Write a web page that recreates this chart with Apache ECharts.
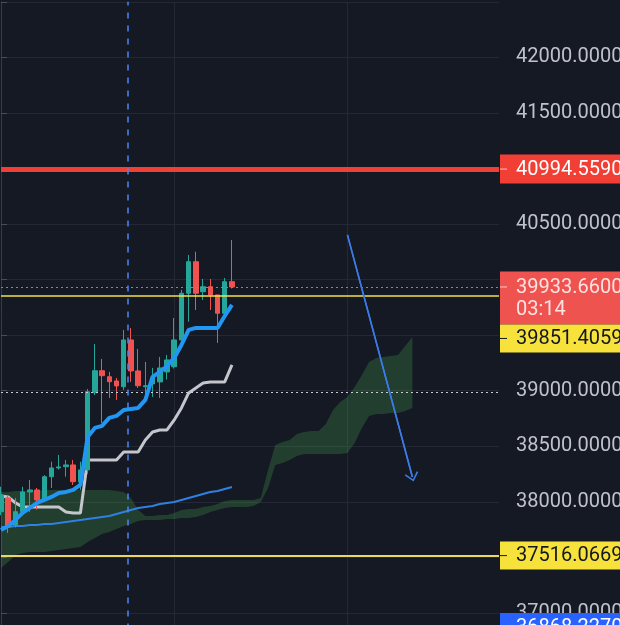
<!DOCTYPE html>
<html><head><meta charset="utf-8">
<script src="https://cdn.jsdelivr.net/npm/echarts@6/dist/echarts.min.js"></script>
<style>html,body{margin:0;padding:0;background:#151924;overflow:hidden}#c{width:620px;height:625px;}</style>
</head><body><div id="c"></div>
<script>
// ---- data ----
const barCount = 70;
const bars = Array.from({length: barCount}, (_, i) => 'b' + i);

const opens  = [37911,38035,37792,37911,38089,38107,38017,38226,38305,38316,38332,38181,38287,38982,39180,39126,39088,39036,39457,39178,39036,39061,39079,39169,39216,39457,39877,40161,39891,39936,39862,39697,39981];
const closes = [38062,37774,37911,38089,38107,38017,38226,38305,38314,38332,38181,38287,38991,39180,39135,39081,39043,39457,39178,39045,39045,39115,39205,39277,39457,39877,40161,39877,39936,39862,39697,39981,39933.66];
const lows   = [37880,37720,37770,37880,37910,37930,38000,38125,38290,38226,38152,38107,38250,38962,38710,38935,38917,39007,39079,39025,38935,38944,38935,39100,39200,39412,39621,39727,39817,39727,39430,39680,39920];
const highs  = [38136,38060,38035,38136,38197,38125,38240,38361,38422,38377,38377,38361,39015,39421,39286,39169,39115,39547,39565,39376,39259,39205,39304,39322,39655,39907,40222,40251,40006,40006,39862,40015,40357];

const tenkan = [37747,37783,37837,37900,37945,37990,38017,38044,38080,38089,38107,38152,38584,38665,38683,38755,38773,38827,38836,38845,38917,39124,39169,39223,39295,39412,39547,39565,39565,39565,39565,39673,39772];
const kijun  = [38053,38044,37990,37954,37954,37954,37954,37954,37954,37909,37900,37900,38377,38377,38377,38377,38377,38449,38449,38449,38557,38629,38647,38647,38737,38845,38980,39025,39070,39079,39079,39079,39232];
const maLine = [37773,37773,37782,37782,37792,37792,37801,37801,37810,37819,37828,37837,37846,37855,37864,37873,37891,37909,37927,37945,37954,37963,37981,37990,37999,38017,38035,38053,38071,38089,38098,38116,38134];

const cloudUpper = [38089,38089,38098,38098,38098,38098,38107,38107,38107,38107,38107,38107,38107,38107,38107,38107,38098,38089,38035,37927,37873,37873,37882,37882,37900,37927,37936,37936,37954,37963,37981,38008,38017,38017,38017,38017,38035,38287,38512,38539,38557,38611,38629,38638,38638,38701,38827,38899,38944,39034,39142,39259,39295,39304,39313,39322,39403,39484];
const cloudLower = [37405,37459,37522,37540,37549,37549,37549,37558,37567,37576,37585,37594,37639,37675,37711,37729,37756,37783,37801,37828,37837,37837,37837,37846,37846,37855,37855,37864,37882,37909,37927,37945,37954,37954,37954,37963,37999,38125,38332,38350,38377,38413,38431,38431,38431,38431,38431,38431,38440,38530,38665,38773,38791,38791,38800,38800,38818,38845];

const yTicks = {min: 36500, max: 42500, step: 500};
const redLevel = 40994.559;
const lastPrice = 39933.66;
const countdown = '03:14';
const yellowHigh = 39851.4059;
const yellowLow = 37516.0669;
const crossPrice = 38985;
const bluePrice = 36868.227;
const vLineBar = 17.5;
const arrowX = [48, 57];
const arrowY = [40402, 38223];

// ---- chart ----
const candleData = opens.map((o, i) => [o, closes[i], lows[i], highs[i]]);
const cloudBand = cloudUpper.map((u, i) => u - cloudLower[i]);

const chart = echarts.init(document.getElementById('c'), null, {renderer: 'canvas', width: 620, height: 625});
const gridLine = '#242834';
let hiddenTicks = [];
const labelFmt = v => (v >= yTicks.max || v <= yTicks.min || hiddenTicks.indexOf(v) >= 0) ? '' : v.toFixed(4);
const option = {
  animation: false,
  backgroundColor: '#151924',
  grid: {left: 1, right: 121, top: 1.8, bottom: -43.5, containLabel: false, outerBoundsMode: 'none'},
  xAxis: [
    {type: 'category', data: bars, boundaryGap: false, axisLine: {show: false}, axisTick: {show: false},
     axisLabel: {show: false}, splitLine: {show: true, interval: 23, lineStyle: {color: gridLine, width: 1}}},
    {type: 'value', min: 0, max: barCount - 1, show: false}
  ],
  yAxis: {
    type: 'value', position: 'right', min: yTicks.min, max: yTicks.max, interval: yTicks.step,
    axisLine: {show: true, lineStyle: {color: '#363a45', width: 1}},
    axisTick: {show: true, length: 6, lineStyle: {color: '#4a4e5a'}},
    axisLabel: {margin: 17, color: '#bfc2cb', fontSize: 20, fontFamily: 'Roboto', formatter: labelFmt},
    splitLine: {show: true, lineStyle: {color: gridLine, width: 1}}
  },
  series: [
    {name: 'cloudLower', type: 'line', data: cloudLower, stack: 'cloud', symbol: 'none', silent: true,
     lineStyle: {opacity: 0}, z: 1},
    {name: 'cloudBand', type: 'line', data: cloudBand, stack: 'cloud', symbol: 'none', silent: true,
     lineStyle: {opacity: 0}, areaStyle: {color: 'rgba(76,175,80,0.25)', opacity: 1}, z: 1},
    {name: 'ma', type: 'line', data: maLine, symbol: 'none', silent: true,
     lineStyle: {color: '#2f80e0', width: 2}, z: 2},
    {name: 'kijun', type: 'line', data: kijun, symbol: 'none', silent: true,
     lineStyle: {color: '#c4c6cc', width: 3}, z: 3},
    {name: 'price', type: 'candlestick', data: candleData, barWidth: 5, z: 4,
     itemStyle: {color: '#26a69a', color0: '#ef5350', borderColor: '#26a69a', borderColor0: '#ef5350', borderColorDoji: '#26a69a', borderWidth: 1},
     markLine: {silent: true, symbol: ['none', 'none'], label: {show: false}, animation: false,
       data: [
         {yAxis: redLevel, lineStyle: {color: '#f23f36', width: 5, type: 'solid'}},
         {yAxis: lastPrice, lineStyle: {color: '#e86060', width: 1, type: [2, 3]}},
         {yAxis: yellowHigh, lineStyle: {color: '#f3e04a', width: 1.5, type: 'solid'}},
         {yAxis: crossPrice, lineStyle: {color: '#c9ccd4', width: 1.2, type: [2, 3]}},
         {yAxis: yellowLow, lineStyle: {color: '#e9d76a', width: 2.2, type: 'solid'}}
       ]}},
    {name: 'tenkan', type: 'line', data: tenkan, symbol: 'none', silent: true,
     lineStyle: {color: '#2196f3', width: 4}, z: 5},
    {name: 'annot', type: 'line', xAxisIndex: 1, data: arrowX.map((x, i) => [x, arrowY[i]]),
     symbol: 'none', silent: true, lineStyle: {color: '#3d7be6', width: 1.5}, z: 6,
     markLine: {silent: true, label: {show: false}, animation: false, symbol: ['none', 'none'],
       lineStyle: {color: '#3d7be6', width: 1.5, type: 'solid'},
       data: [
         [{coord: [arrowX[0], arrowY[0]], symbol: 'none'},
          {coord: [arrowX[1], arrowY[1]], symbol: 'path://M0,10 L10,0 L20,10 L18.2,11.4 L10,2.8 L1.8,11.4 Z', symbolSize: [14, 9]}],
         {xAxis: vLineBar, symbol: 'none', lineStyle: {color: '#4a86f2', width: 1.5, type: [6, 7], opacity: 1}}
       ]}}
  ]
};
chart.setOption(option);

// price boxes on the scale, placed through the axis' own conversion
const yOf = v => chart.convertToPixel({yAxisIndex: 0}, v);
const boxX = 500, boxW = 120, textX = 516, font = '20px Roboto';
const g = [];
const ranges = [];
function box(top, h, fill) { ranges.push([top, top + h]); g.push({type: 'rect', zlevel: 5, z: 100, shape: {x: boxX, y: top, width: boxW, height: h}, style: {fill: fill}}); }
function txt(str, y, fill) { g.push({type: 'text', zlevel: 5, z: 101, x: textX, y: y, style: {text: str, fill: fill, font: font, verticalAlign: 'middle', align: 'left'}}); }
function tick(y, color) { g.push({type: 'line', zlevel: 5, z: 101, shape: {x1: 500, y1: y, x2: 507, y2: y}, style: {stroke: color, lineWidth: 1}}); }

const yR = yOf(redLevel);
box(yR - 14.5, 29, '#f23f36'); txt(redLevel.toFixed(4), yR + 0.5, '#ffffff'); tick(yR, 'rgba(255,255,255,0.7)');
const yC = yOf(lastPrice);
box(yC - 15.5, 53, '#ef5350'); txt(lastPrice.toFixed(4), yC + 1.5, '#fde2e1'); txt(countdown, yC + 23.5, '#fde2e1'); tick(yC, 'rgba(255,255,255,0.7)');
const yH = yC + 37.5;
box(yH, 28, '#f7e23c'); txt(yellowHigh.toFixed(4), yH + 14.5, '#131722'); tick(yH + 14, '#131722');
const yL = yOf(yellowLow);
box(yL - 14, 28, '#f7e23c'); txt(yellowLow.toFixed(4), yL + 0.5, '#131722'); tick(yL, '#131722');
const yB = yOf(bluePrice);
box(yB - 14.5, 29, '#2962ff'); txt(bluePrice.toFixed(4), yB + 0.5, '#ffffff');

for (let v = yTicks.min; v <= yTicks.max; v += yTicks.step) {
  const y = yOf(v);
  if (ranges.some(r => y > r[0] + 2 && y < r[1])) hiddenTicks.push(v);
}
chart.setOption({graphic: {elements: g}, yAxis: {axisLabel: {formatter: labelFmt}}});
</script>
</body></html>
